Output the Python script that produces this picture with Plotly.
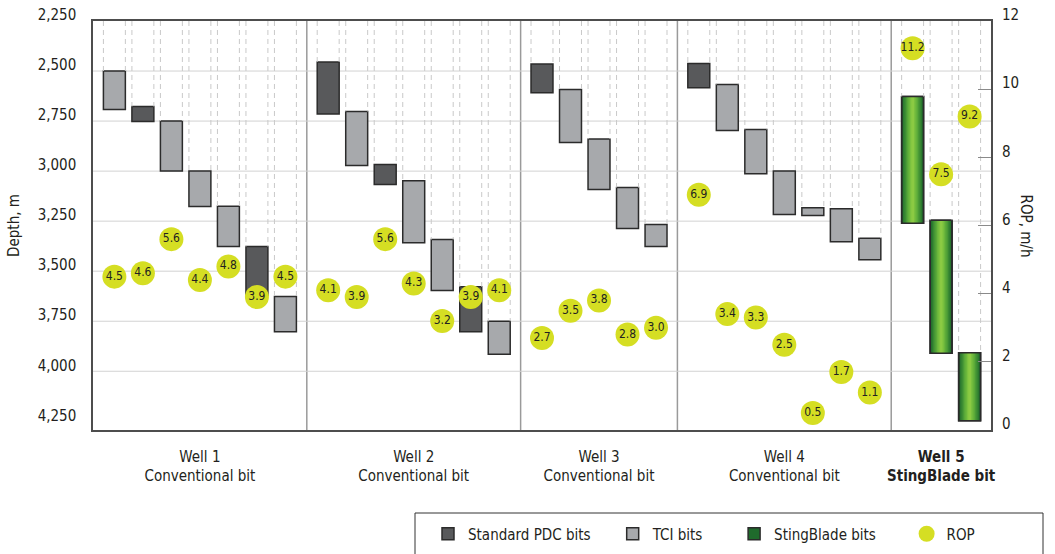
import plotly.graph_objects as go

# ---------------- data ----------------
well_names = ["Well 1", "Well 2", "Well 3", "Well 4", "Well 5"]
well_bits = ["Conventional bit", "Conventional bit", "Conventional bit", "Conventional bit", "StingBlade bit"]

w1_types = ["TCI", "PDC", "TCI", "TCI", "TCI", "PDC", "TCI"]
w1_top = [2500, 2677, 2750, 3000, 3175, 3377, 3627]
w1_bottom = [2692, 2752, 3000, 3177, 3377, 3620, 3803]
w1_rop = [4.5, 4.6, 5.6, 4.4, 4.8, 3.9, 4.5]

w2_types = ["PDC", "TCI", "PDC", "TCI", "TCI", "PDC", "TCI"]
w2_top = [2455, 2702, 2967, 3048, 3342, 3578, 3750]
w2_bottom = [2715, 2972, 3067, 3358, 3597, 3803, 3915]
w2_rop = [4.1, 3.9, 5.6, 4.3, 3.2, 3.9, 4.1]

w3_types = ["PDC", "TCI", "TCI", "TCI", "TCI"]
w3_top = [2465, 2592, 2840, 3082, 3267]
w3_bottom = [2608, 2857, 3092, 3287, 3377]
w3_rop = [2.7, 3.5, 3.8, 2.8, 3.0]

w4_types = ["PDC", "TCI", "TCI", "TCI", "TCI", "TCI", "TCI"]
w4_top = [2462, 2567, 2792, 3000, 3183, 3188, 3335]
w4_bottom = [2583, 2797, 3013, 3217, 3222, 3353, 3443]
w4_rop = [6.9, 3.4, 3.3, 2.5, 0.5, 1.7, 1.1]

w5_types = ["SB", "SB", "SB"]
w5_top = [2627, 3245, 3907]
w5_bottom = [3260, 3910, 4247]
w5_rop = [11.2, 7.5, 9.2]

depth_ticks = [2250, 2500, 2750, 3000, 3250, 3500, 3750, 4000, 4250]
grid_depths = [2500, 2750, 3000, 3250, 3500, 3750, 4000]
rop_ticks = [0, 2, 4, 6, 8, 10, 12]

legend_names = ["Standard PDC bits", "TCI bits", "StingBlade bits", "ROP"]

# ---------------- layout helpers ----------------
FONT = "Liberation Sans Narrow, Arial Narrow, DejaVu Sans Condensed, sans-serif"
TXT = "#231f20"
PAD = 0.75
BW = 0.77
DEPTH_MIN = 2250
DEPTH_MAX = 4293.5
NB = "\u00a0"

wells = [
    (w1_types, w1_top, w1_bottom, w1_rop),
    (w2_types, w2_top, w2_bottom, w2_rop),
    (w3_types, w3_top, w3_bottom, w3_rop),
    (w4_types, w4_top, w4_bottom, w4_rop),
    (w5_types, w5_top, w5_bottom, w5_rop),
]

bars = {"PDC": ([], [], []), "TCI": ([], [], []), "SB": ([], [], [])}
rop_x, rop_y, rop_t = [], [], []
dash_x, dash_y = [], []
boundaries = []
label_pos = []
pos = 0.0
for types, tops, bots, rops in wells:
    n = len(types)
    start = pos
    for i in range(n):
        c = start + PAD + i
        bx, bb, bh = bars[types[i]]
        bx.append(c)
        bb.append(tops[i])
        bh.append(bots[i] - tops[i])
        rop_x.append(c)
        rop_y.append(rops[i])
        rop_t.append(f"{rops[i]:.1f}")
        for e in (c - BW / 2, c + BW / 2):
            dash_x += [e, e, None]
            dash_y += [DEPTH_MIN, tops[i], None]
    end = start + n - 1 + 2 * PAD
    boundaries.append(end)
    label_pos.append((start + end) / 2)
    pos = end
XMAX = pos

fig = go.Figure()

fig.add_trace(go.Scatter(
    x=dash_x, y=dash_y, mode="lines",
    line=dict(color="#c9c9c9", width=1, dash="5px,4px"),
    showlegend=False, hoverinfo="skip"))

outline = dict(color="#2b2b2b", width=1.5)
fig.add_trace(go.Bar(
    x=bars["PDC"][0], base=bars["PDC"][1], y=bars["PDC"][2], width=BW,
    marker=dict(color="#58595b", line=outline), name=legend_names[0] + NB * 4))
fig.add_trace(go.Bar(
    x=bars["TCI"][0], base=bars["TCI"][1], y=bars["TCI"][2], width=BW,
    marker=dict(color="#a7a9ac", line=outline), name=legend_names[1] + NB * 6))

# StingBlade bars: layered to imitate horizontal gradient
greens = ["#1f6b2c", "#2c7a2f", "#3a8a33", "#4a9a36", "#5aa939", "#6ab63c", "#7bc13f", "#8bca43"]
for k, col in enumerate(greens):
    frac = 1 - k / len(greens)
    fig.add_trace(go.Bar(
        x=bars["SB"][0], base=bars["SB"][1], y=bars["SB"][2], width=BW * frac,
        marker=dict(color=col, line=dict(width=1.5 if k == 0 else 0, color="#2b2b2b")),
        name=legend_names[2] + NB * 6, showlegend=(k == 0)))
fig.add_trace(go.Bar(
    x=bars["SB"][0], base=bars["SB"][1], y=bars["SB"][2], width=BW,
    marker=dict(color="rgba(0,0,0,0)", line=outline), showlegend=False))

fig.add_trace(go.Scatter(
    x=rop_x, y=rop_y, yaxis="y2", mode="markers+text",
    marker=dict(size=24, color="#d5de23"),
    text=rop_t, textposition="middle center",
    textfont=dict(family=FONT, size=12, color=TXT),
    name=legend_names[3]))

shapes = []
for d in grid_depths:
    shapes.append(dict(type="line", xref="x", yref="y", x0=0, x1=XMAX, y0=d, y1=d,
                       line=dict(color="#d2d2d2", width=1), layer="below"))
for b in boundaries[:-1]:
    shapes.append(dict(type="line", xref="x", yref="paper", x0=b, x1=b, y0=0, y1=1,
                       line=dict(color="#9a9a9a", width=1.5), layer="below"))
# legend box
shapes.append(dict(type="rect", xref="paper", yref="paper",
                   x0=(415 - 93) / 898, x1=(1043 - 93) / 898,
                   y0=(430 - 513) / 409, y1=(430 - 570) / 409,
                   line=dict(color="#333333", width=1), fillcolor="rgba(0,0,0,0)"))

ticktext = [f"{n}<br>{b}" if i < 4 else f"<b>{n}<br>{b}</b>"
            for i, (n, b) in enumerate(zip(well_names, well_bits))]

fig.update_layout(
    width=1055, height=554,
    margin=dict(l=93, r=64, t=21, b=124, autoexpand=False),
    paper_bgcolor="white", plot_bgcolor="white",
    font=dict(family=FONT, size=15, color=TXT),
    barmode="overlay",
    shapes=shapes,
    xaxis=dict(range=[0, XMAX], tickvals=label_pos, ticktext=ticktext,
               showgrid=False, zeroline=False, showline=True, mirror=True,
               linecolor="#4d4d4d", linewidth=1.5, ticks="", automargin=False,
               tickfont=dict(size=15), ticklabelstandoff=12),
    yaxis=dict(range=[DEPTH_MAX, DEPTH_MIN], tickvals=depth_ticks, tickformat=",",
               showgrid=False, zeroline=False, showline=True, mirror=True,
               linecolor="#4d4d4d", linewidth=1.5, ticks="", automargin=False,
               ticklabelstandoff=12, ticklabelshift=6, ticklabeloverflow="allow",
               title=dict(text="Depth, m", font=dict(size=15), standoff=14)),
    yaxis2=dict(range=[0, 12], tickvals=rop_ticks, overlaying="y", side="right",
                showgrid=False, zeroline=False, showline=False, automargin=False,
                ticks="inside", ticklen=13, tickcolor="#8a8a8a", tickwidth=1,
                ticklabelstandoff=10, ticklabelshift=-6, ticklabeloverflow="allow"),
    legend=dict(orientation="h", x=(428 - 93) / 898, xanchor="left",
                y=(430 - 534) / 409, yanchor="middle",
                bgcolor="rgba(0,0,0,0)", font=dict(size=15), traceorder="normal"),
    annotations=[dict(text="ROP, m/h", xref="paper", yref="paper",
                      x=(1037 - 93) / 898, y=0.5, textangle=90, showarrow=False,
                      font=dict(size=15, color=TXT))],
)

fig.write_html("out.html", config={"displayModeBar": False},
               post_script="document.body.style.margin='0';document.body.style.overflow='hidden';")
